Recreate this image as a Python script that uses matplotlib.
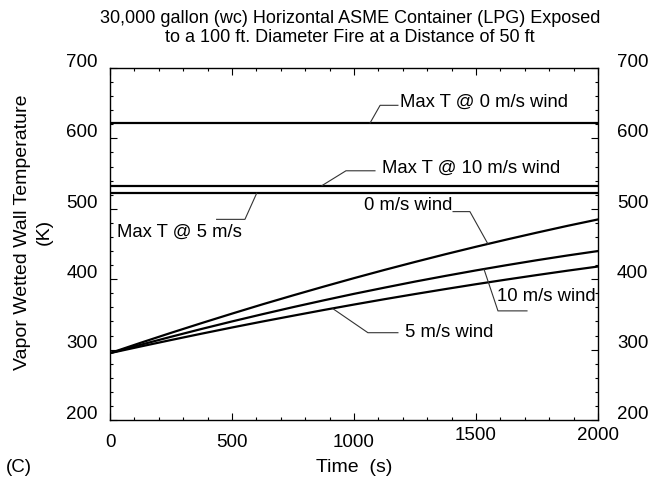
import numpy as np
import matplotlib.pyplot as plt
import matplotlib.transforms as mtransforms

plt.rcParams['font.family'] = ['Liberation Sans', 'DejaVu Sans']

# time (s) and vapor wetted wall temperature (K)
time_s = [0, 125, 250, 375, 500, 625, 750, 875, 1000,
          1125, 1250, 1375, 1500, 1625, 1750, 1875, 2000]
temp_0ms = [295.0, 309.6, 323.8, 337.6, 351.1, 364.3, 377.0, 389.4, 401.5,
            413.2, 424.5, 435.5, 446.1, 456.3, 466.2, 475.8, 484.9]
temp_10ms = [295.0, 306.8, 318.2, 329.3, 340.0, 350.3, 360.3, 369.9, 379.2,
             388.0, 396.6, 404.7, 412.5, 419.9, 427.0, 433.7, 440.0]
temp_5ms = [295.0, 304.4, 313.6, 322.6, 331.4, 339.9, 348.1, 356.2, 364.0,
            371.6, 378.9, 386.0, 392.9, 399.5, 405.9, 412.1, 418.0]

# maximum temperatures (horizontal lines)
max_t_0ms = 622
max_t_10ms = 533
max_t_5ms = 522

x_ticks = [0, 500, 1000, 1500, 2000]
y_ticks = [200, 300, 400, 500, 600, 700]

title = ("30,000 gallon (wc) Horizontal ASME Container (LPG) Exposed\n"
         "to a 100 ft. Diameter Fire at a Distance of 50 ft")

fig = plt.figure(figsize=(6.65, 4.84), dpi=100)
ax = fig.add_axes([110 / 665, 1 - 420 / 484, 488 / 665, 352 / 484])

lw = 1.6
ax.plot(time_s, temp_0ms, color="black", lw=lw)
ax.plot(time_s, temp_10ms, color="black", lw=lw)
ax.plot(time_s, temp_5ms, color="black", lw=lw)
for v in (max_t_0ms, max_t_10ms, max_t_5ms):
    ax.axhline(v, color="black", lw=lw)

ax.set_xlim(0, 2000)
ax.set_ylim(200, 700)
ax.set_xticks(x_ticks)
ax.set_yticks(y_ticks)
ax.set_xticks(np.arange(0, 2001, 100), minor=True)
ax.set_yticks(np.arange(200, 701, 20), minor=True)
ax.tick_params(which="both", direction="in", top=True, right=True,
               labelbottom=False, labelleft=False, width=0.8)
ax.tick_params(which="major", length=5)
ax.tick_params(which="minor", length=2.5)
for s in ax.spines.values():
    s.set_linewidth(1.0)

fs_tick = 13.5
# x tick labels (the last two sit a little higher in the original)
xtr = mtransforms.blended_transform_factory(ax.transData, ax.transAxes)
for v in x_ticks:
    yy = -0.043 if v >= 1500 else -0.063
    ax.text(v, yy, str(v), transform=xtr, ha="center", va="center", fontsize=fs_tick)

# y tick labels on both sides
ytr_l = mtransforms.blended_transform_factory(ax.transAxes, ax.transData)
for v in y_ticks:
    ax.text(-0.025, v + 8, str(v), transform=ytr_l, ha="right", va="center", fontsize=fs_tick)
    ax.text(1.039, v + 8, str(v), transform=ytr_l, ha="left", va="center", fontsize=fs_tick)

# callouts with leader lines
lead = dict(color="#333333", lw=0.8)
fs_ann = 13.3
ax.plot([1066, 1107, 1180], [max_t_0ms, 647, 647], **lead)
ax.text(1190, 651, "Max T @ 0 m/s wind", fontsize=fs_ann, ha="left", va="center")

ax.plot([869, 967, 1086], [max_t_10ms, 554, 554], **lead)
ax.text(1115, 558, "Max T @ 10 m/s wind", fontsize=fs_ann, ha="left", va="center")

ax.plot([601, 553, 437], [max_t_5ms, 485, 485], **lead)
ax.text(29, 466, "Max T @ 5 m/s", fontsize=fs_ann, ha="left", va="center")

ax.plot([1406, 1475, 1549], [496, 496, 450], **lead)
ax.text(1402, 505, "0 m/s wind", fontsize=fs_ann, ha="right", va="center")

ax.plot([1533, 1590, 1709], [414, 355, 355], **lead)
ax.text(1586, 375, "10 m/s wind", fontsize=fs_ann, ha="left", va="center")

ax.plot([914, 1057, 1180], [358, 324, 324], **lead)
ax.text(1209, 324, "5 m/s wind", fontsize=fs_ann, ha="left", va="center")

fig.text(350 / 665, 1 - 28 / 484, title, ha="center", va="center", fontsize=13,
         linespacing=1.2)
fig.text(354 / 665, 1 - 467 / 484, "Time  (s)", ha="center", va="center", fontsize=14)
fig.text(6 / 665, 1 - 467 / 484, "(C)", ha="left", va="center", fontsize=13.5)
fig.text(33 / 665, 1 - 232 / 484, "Vapor Wetted Wall Temperature\n(K)", rotation=90,
         ha="center", va="center", fontsize=14, multialignment="center", linespacing=1.35)

fig.savefig("out.png", dpi=100)
